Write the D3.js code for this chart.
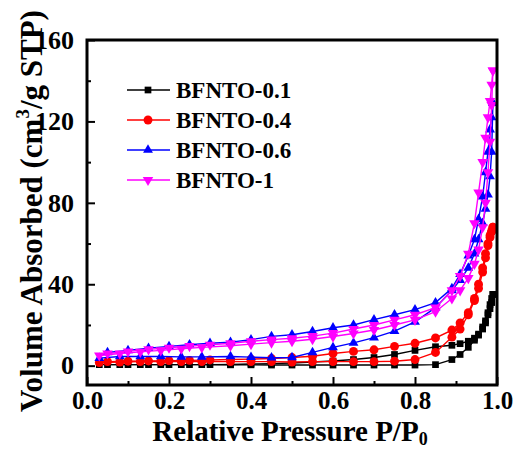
<!DOCTYPE html>
<html>
<head>
<meta charset="utf-8">
<script src="https://cdn.jsdelivr.net/npm/d3@7/dist/d3.min.js"></script>
<style>
  html, body { margin: 0; padding: 0; background: #fff; }
  svg text { font-family: "Times New Roman", Tinos, "Liberation Serif", "Nimbus Roman", "Noto Serif", FreeSerif, "DejaVu Serif", serif; font-weight: bold; }
</style>
</head>
<body>
<svg id="chart" width="514" height="450"></svg>
<script>
// ---------- data ----------
const seriesNames = ["BFNTO-0.1", "BFNTO-0.4", "BFNTO-0.6", "BFNTO-1"];
const seriesColors = ["#000000", "#ff0000", "#0000ff", "#ff00ff"];
const seriesSymbols = ["square", "circle", "triangle", "triangleDown"];

// adsorption branch relative pressures
const pAds = [0.03,0.08,0.13,0.18,0.23,0.28,0.35,0.40,0.45,0.50,0.55,0.60,0.65,0.70,0.75,0.80,0.85,0.89,0.91,0.93,0.945,0.955,0.965,0.972,0.978,0.983,0.987,0.99];
// desorption branch relative pressures
const pDes = [0.99,0.987,0.983,0.978,0.972,0.965,0.955,0.945,0.93,0.91,0.89,0.85,0.80,0.75,0.70,0.65,0.60,0.55,0.50,0.45,0.40,0.35,0.30,0.25,0.20,0.15,0.10,0.05];

const ads01 = [0.5,0.5,0.5,0.5,0.5,0.5,0.4,0.4,0.3,0.3,0.3,0.3,0.3,0.3,0.3,0.3,0.5,3,5.5,9,12.5,15,19,22,26,30,33,35];
const des01 = [35,31,28,25,21,18,15.5,13.5,12,10.8,10,9.3,7.5,5.5,4,3,2.3,1.8,1.3,1,0.8,0.6,0.5,0.5,0.5,0.5,0.5,0.5];

const ads04 = [1.5,1.8,2,2,2,2,2,2,2,1.8,2,2,2,2,2.2,3,6.5,14,18,25,32,38,46,53,59,63,66,68];
const des04 = [68,66,64,60,55,48,40,33,26,21,17.5,13.6,11,9.5,7.8,7,6,4.6,4,3.5,3.2,3,2.8,2.6,2.5,2.3,2.2,2];

const ads06 = [3.7,4.5,4.5,4.5,4.3,4.3,4.5,4.2,3.9,4,6.5,9,11.2,13.8,17,21.5,28.5,37,42,48,55,62,70,77,84,93,105,129];
const des06 = [129,122,116,105,95,83,72,62,54,45,38,31,27.5,25,22.6,20,18.6,16.8,15.2,14.4,12.8,11.5,11,10.3,9.5,8.6,7.5,6.5];

const ads1 = [5,6,6.8,7.5,8.3,9,9.8,10.6,11.3,12,13,14.3,15.8,17.5,20,22.5,26.5,33,37,43,50,57,68,80,95,110,128,145];
const des1 = [145,138,130,122,112,100,85,70,55,44,37,28.5,25,22.5,20,18,16,14.5,13.5,12.8,12,11,10.3,9.6,8.8,8,7,6];

const adsSets = [ads01, ads04, ads06, ads1];
const desSets = [des01, des04, des06, des1];

const xMajor = [0.0, 0.2, 0.4, 0.6, 0.8, 1.0];
const xMinor = [0.1, 0.3, 0.5, 0.7, 0.9];
const yMajor = [0, 40, 80, 120, 160];
const yMinor = [20, 60, 100, 140];

// ---------- layout ----------
const svg = d3.select("#chart");
const L = 87, R = 497, T = 40, B = 385;
const x = d3.scaleLinear().domain([0, 1]).range([L, R]);
const y = d3.scaleLinear().domain([-9.5, 160]).range([B, T]);

// axes
const gx = svg.append("g").attr("transform", `translate(0,${B})`)
  .call(d3.axisBottom(x).tickValues(xMajor).tickFormat(d3.format(".1f")).tickSizeInner(-8).tickSizeOuter(0).tickPadding(6));
const gxm = svg.append("g").attr("transform", `translate(0,${B})`)
  .call(d3.axisBottom(x).tickValues(xMinor).tickSizeInner(-4).tickSizeOuter(0));
const gy = svg.append("g").attr("transform", `translate(${L},0)`)
  .call(d3.axisLeft(y).tickValues(yMajor).tickFormat(d3.format("d")).tickSizeInner(-8).tickSizeOuter(0).tickPadding(13));
const gym = svg.append("g").attr("transform", `translate(${L},0)`)
  .call(d3.axisLeft(y).tickValues(yMinor).tickSizeInner(-4).tickSizeOuter(0));

[gxm, gym].forEach(g => g.selectAll(".tick text").remove());
[gx, gxm, gy, gym].forEach(g => {
  g.attr("font-family", null);
  g.select(".domain").remove();
  g.selectAll(".tick line").attr("stroke", "#000").attr("stroke-width", 2);
});
gx.selectAll(".tick text").attr("font-size", 25).attr("fill", "#000");
gy.selectAll(".tick text").attr("font-size", 26).attr("fill", "#000");

// series
const symbolTypes = {
  square: d3.symbolSquare, circle: d3.symbolCircle,
  triangle: d3.symbolTriangle, triangleDown: d3.symbolTriangle
};
const symbolSizes = { square: 45, circle: 62, triangle: 42, triangleDown: 48 };
const line = d3.line().x(d => x(d[0])).y(d => y(d[1]));

const plot = svg.append("g");
function drawMarker(g, type, color, px, py) {
  g.append("path")
    .attr("d", d3.symbol().type(symbolTypes[type]).size(symbolSizes[type])())
    .attr("transform", `translate(${px},${py})` + (type === "triangleDown" ? " rotate(180)" : ""))
    .attr("fill", color);
}

seriesNames.forEach((name, i) => {
  const color = seriesColors[i];
  const ads = pAds.map((p, k) => [p, adsSets[i][k]]);
  const des = pDes.map((p, k) => [p, desSets[i][k]]);
  const g = plot.append("g");
  [ads, des].forEach(branch => {
    g.append("path").attr("d", line(branch)).attr("fill", "none")
      .attr("stroke", color).attr("stroke-width", 1.4);
  });
  [ads, des].forEach(branch => {
    branch.forEach(d => drawMarker(g, seriesSymbols[i], color, x(d[0]), y(d[1])));
  });
});

// frame
svg.append("rect").attr("x", L).attr("y", T).attr("width", R - L).attr("height", B - T)
  .attr("fill", "none").attr("stroke", "#000").attr("stroke-width", 3);

// legend
const lg = svg.append("g");
seriesNames.forEach((name, i) => {
  const ly = 90 + 30 * i;
  lg.append("line").attr("x1", 127).attr("x2", 170).attr("y1", ly).attr("y2", ly)
    .attr("stroke", seriesColors[i]).attr("stroke-width", 1.6);
  drawMarker(lg, seriesSymbols[i], seriesColors[i], 148, ly);
  lg.append("text").attr("x", 176).attr("y", ly + 8).attr("font-size", 23)
    .attr("fill", "#000").text(name);
});

// axis titles
const xt = svg.append("text").attr("x", 290).attr("y", 441).attr("text-anchor", "middle")
  .attr("font-size", 29).attr("fill", "#000");
xt.append("tspan").text("Relative Pressure P/P");
xt.append("tspan").attr("font-size", 18).attr("dy", 4).text("0");

const yt = svg.append("text").attr("transform", "translate(42,211) rotate(-90)")
  .attr("text-anchor", "middle").attr("font-size", 31).attr("fill", "#000");
yt.append("tspan").text("Volume Absorbed (cm");
yt.append("tspan").attr("font-size", 19).attr("dy", -13).text("3");
yt.append("tspan").attr("dy", 13).text("/g STP)");
</script>
</body>
</html>
